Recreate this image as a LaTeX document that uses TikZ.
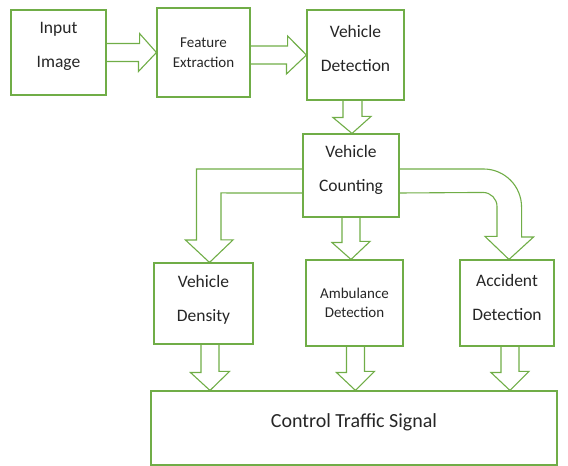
\documentclass[tikz,border=0pt]{standalone}
\usepackage{fontspec}
\setmainfont{Carlito}
\definecolor{boxgreen}{RGB}{112,173,71}
\definecolor{txtgray}{RGB}{38,38,38}
\tikzset{
  blk/.style={draw=boxgreen, line width=1.1pt, inner sep=0pt},
  lbl/.style={align=center, text=txtgray, font=\fontsize{17.5}{34}\selectfont},
  lblsmall/.style={lbl, font=\fontsize{15}{19.5}\selectfont},
  lblbig/.style={lbl, font=\fontsize{20}{24}\selectfont},
  flow/.style={draw=boxgreen, line width=1.1pt, line join=miter},
}

\begin{document}
\begin{tikzpicture}[x=1pt, y=1pt]
\useasboundingbox (0,0) rectangle (568,466);
% boxes
\path (58.5,413.5) node[blk, minimum width=95, minimum height=85] (input) {};
\path (203.5,413.5) node[blk, minimum width=93, minimum height=89] (feature) {};
\path (355.5,411) node[blk, minimum width=97, minimum height=90] (detect) {};
\path (351,290.5) node[blk, minimum width=96, minimum height=83] (count) {};
\path (203.5,162.5) node[blk, minimum width=99, minimum height=81] (density) {};
\path (354.5,163) node[blk, minimum width=97, minimum height=86] (ambul) {};
\path (507,163) node[blk, minimum width=94, minimum height=86] (accid) {};
\path (354,38) node[blk, minimum width=406, minimum height=74] (control) {};
% labels
\path ([yshift=6]input.center) node[lbl] (inputtxt) {Input\\Image};
\path (feature.center) node[lblsmall] (featuretxt) {Feature\\Extraction};
\path ([yshift=7]detect.center) node[lbl] (detecttxt) {Vehicle\\Detection};
\path ([yshift=6]count.center) node[lbl] (counttxt) {Vehicle\\Counting};
\path ([yshift=4]density.center) node[lbl] (densitytxt) {Vehicle\\Density};
\path (ambul.center) node[lblsmall] (ambultxt) {Ambulance\\Detection};
\path ([yshift=6]accid.center) node[lbl] (accidtxt) {Accident\\Detection};
\path ([yshift=6]control.center) node[lblbig] (controltxt) {Control Traffic Signal};
% tips on the bottom box
\coordinate (d1) at ([xshift=6.5]density.south);
\coordinate (d2) at ([xshift=1]ambul.south);
\coordinate (d3) at ([xshift=3]accid.south);
% block arrows
\draw[flow] ([yshift=9]input.east) -- ++(33,0) -- ++(0,10) -- (feature.west)
  -- ++(-18,-19) -- ++(0,10) -- ([yshift=-9]input.east);
\draw[flow] ([yshift=6.5]feature.east) -- ++(37,0) -- ++(0,10) -- (detect.west)
  -- ++(-20,-19) -- ++(0,10) -- ([yshift=-11.5]feature.east);
\draw[flow] ([xshift=-12.5]detect.south) -- ++(0,-17) -- ++(-10,0) -- ([xshift=1]count.north)
  -- ++(19,17) -- ++(-9,0) -- ([xshift=6.5]detect.south);
\draw[flow] ([xshift=-9]count.south) -- ++(0,-25) -- ++(-10,0) -- ([xshift=-3.5]ambul.north)
  -- ++(19,18) -- ++(-10,0) -- ([xshift=9]count.south);
\draw[flow] ([yshift=6.5]count.west) -- ++(-106,0) -- ++(0,-71) -- ++(-11,0) -- ([xshift=6]density.north)
  -- ++(23.5,22.5) -- ++(-12,0) -- ++(0,47) -- ([yshift=-17.5]count.west);
\draw[flow] ([yshift=6.5]count.east) -- ++(84,0) arc[start angle=90, end angle=0, radius=38]
  -- ++(0,-30) -- ++(12,0) -- ([xshift=2]accid.north) -- ++(-24,23) -- ++(12,0) -- ++(0,30)
  arc[start angle=0, end angle=90, radius=14] -- ([yshift=-17.5]count.east);
\draw[flow] ([xshift=-2.5]density.south) -- ++(0,-28) -- ++(-10.5,0) -- (d1 |- control.north)
  -- ++(19.5,19) -- ++(-10.5,0) -- ([xshift=15.5]density.south);
\draw[flow] ([xshift=-8]ambul.south) -- ++(0,-26) -- ++(-10,0) -- (d2 |- control.north)
  -- ++(19,19) -- ++(-10,0) -- ([xshift=10]ambul.south);
\draw[flow] ([xshift=-6]accid.south) -- ++(0,-26) -- ++(-10,0) -- (d3 |- control.north)
  -- ++(19,19) -- ++(-10,0) -- ([xshift=12]accid.south);
\end{tikzpicture}
\end{document}
